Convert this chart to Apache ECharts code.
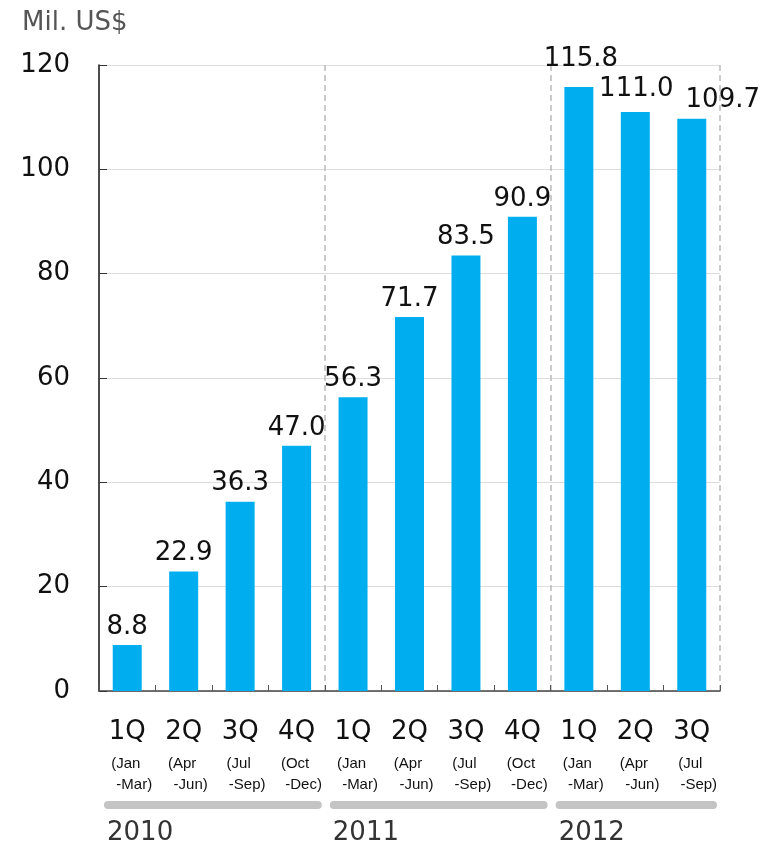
<!DOCTYPE html>
<html><head><meta charset="utf-8">
<script src="https://cdn.jsdelivr.net/npm/echarts@6/dist/echarts.min.js"></script>
<style>html,body{margin:0;padding:0;background:#fff}#c{width:761px;height:845px}</style>
</head><body><div id="c"></div>
<script>
const quarters = ['1Q','2Q','3Q','4Q','1Q','2Q','3Q','4Q','1Q','2Q','3Q'];
const monthsStart = ['(Jan','(Apr','(Jul','(Oct','(Jan','(Apr','(Jul','(Oct','(Jan','(Apr','(Jul'];
const monthsEnd = ['-Mar)','-Jun)','-Sep)','-Dec)','-Mar)','-Jun)','-Sep)','-Dec)','-Mar)','-Jun)','-Sep)'];
const values = [8.8, 22.9, 36.3, 47.0, 56.3, 71.7, 83.5, 90.9, 115.8, 111.0, 109.7];
const years = ['2010','2011','2012'];
const yearStart = [0, 4, 8];
const yearEnd = [3, 7, 10];
const yTicks = [0, 20, 40, 60, 80, 100, 120];

const FONT = 'DejaVu Sans';
const SMALL = "'Liberation Sans Narrow', 'Liberation Sans'";
const cats = quarters.map((q, i) => i);
const labelOffsets = { 8: [2, -10], 9: [1, -5], 10: [31, 0] };

const chart = echarts.init(document.getElementById('c'));
chart.setOption({
  animation: false,
  backgroundColor: '#fff',
  textStyle: { fontFamily: FONT },
  title: {
    text: 'Mil. US$', left: 17, top: 5,
    textStyle: { fontFamily: FONT, fontSize: 26, fontWeight: 'normal', color: '#555' }
  },
  grid: { left: 99, right: 41, top: 65, bottom: 154 },
  xAxis: {
    type: 'category',
    data: cats,
    boundaryGap: true,
    axisLine: { show: true, lineStyle: { color: '#444', width: 1.5 } },
    axisTick: { show: true, inside: true, length: 6, lineStyle: { color: '#555' } },
    splitLine: {
      show: true,
      interval: (i) => yearStart.indexOf(i) > 0,
      lineStyle: { color: '#bbb', type: [6, 4], width: 1.5 }
    },
    axisLabel: {
      interval: 0,
      margin: 20,
      formatter: (v, i) => '{q|' + quarters[i] + '}\n{a|' + monthsStart[i] + '}\n{b|' + monthsEnd[i] + '}',
      rich: {
        q: { fontFamily: FONT, fontSize: 26, color: '#111', lineHeight: 42 },
        a: { fontFamily: SMALL, fontSize: 15, color: '#111', lineHeight: 21, padding: [0, 3, 0, 0] },
        b: { fontFamily: SMALL, fontSize: 15, color: '#111', lineHeight: 21, padding: [0, 0, 0, 14] }
      }
    }
  },
  yAxis: {
    type: 'value',
    min: 0, max: 120, interval: 20,
    axisLine: { show: true, lineStyle: { color: '#111', width: 1.5 } },
    axisTick: { show: true, inside: true, length: 8, lineStyle: { color: '#333' } },
    splitLine: { show: true, lineStyle: { color: '#ddd', width: 1 } },
    axisLabel: {
      margin: 29, fontFamily: FONT, fontSize: 26, color: '#111',
      formatter: (v) => yTicks.indexOf(v) >= 0 ? String(v) : ''
    }
  },
  series: [
    {
      type: 'bar',
      barWidth: 29,
      itemStyle: { color: '#00AEEF' },
      data: values.map((v, i) => ({
        value: v,
        label: labelOffsets[i] ? { offset: labelOffsets[i] } : undefined
      })),
      label: {
        show: true, position: 'top', distance: 5,
        fontFamily: FONT, fontSize: 26, color: '#111',
        formatter: (p) => p.value.toFixed(1)
      }
    },
    {
      type: 'custom',
      clip: false,
      silent: true,
      data: years.map((y, i) => [yearStart[i], yearEnd[i], i]),
      encode: { x: [0, 1] },
      renderItem: (params, api) => {
        const s = api.coord([api.value(0), 0]);
        const e = api.coord([api.value(1), 0]);
        const bw = api.size([1, 0])[0];
        const left = s[0] - bw / 2 + 5;
        const right = e[0] + bw / 2 - 3;
        const y0 = s[1];
        const idx = api.value(2);
        return {
          type: 'group',
          children: [
            { type: 'rect', shape: { x: left, y: y0 + 110, width: right - left, height: 8, r: 4 }, style: { fill: '#c4c4c4' } },
            { type: 'text', style: { x: left + 3, y: y0 + 142, text: years[idx], fontFamily: FONT, fontSize: 26, fill: '#333', align: 'left', verticalAlign: 'middle' } }
          ]
        };
      }
    }
  ]
});
</script>
</body></html>
